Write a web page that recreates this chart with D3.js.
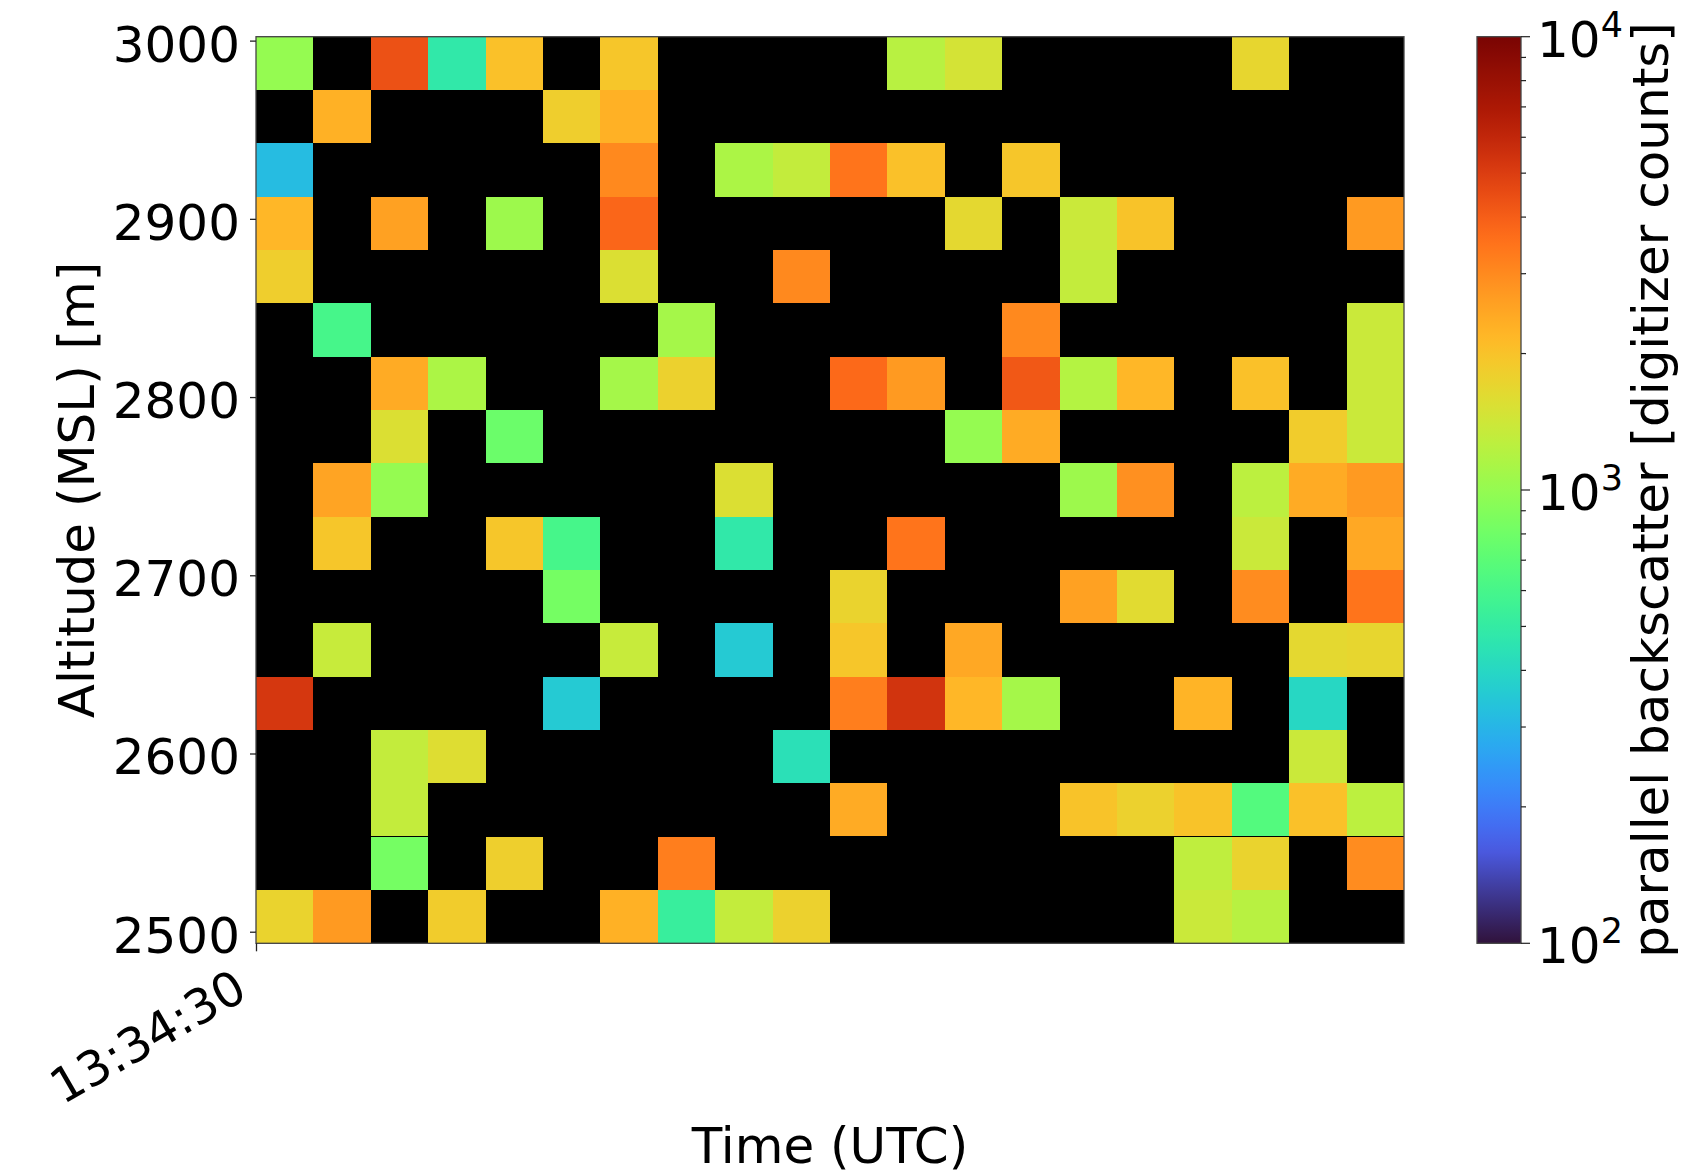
<!DOCTYPE html>
<html>
<head>
<meta charset="utf-8">
<script src="https://cdn.jsdelivr.net/npm/d3@7"></script>
<style>
  html, body { margin: 0; padding: 0; background: #fff; }
  svg { display: block; font-family: 'DejaVu Sans', sans-serif; }
</style>
</head>
<body>
<svg id="chart" width="1695" height="1174"></svg>
<script>
// time bins (UTC), one per column, and end of last bin
const times = ['13:34:30', '13:34:31', '13:34:32', '13:34:33', '13:34:34', '13:34:35', '13:34:36', '13:34:37', '13:34:38', '13:34:39',
  '13:34:40', '13:34:41', '13:34:42', '13:34:43', '13:34:44', '13:34:45', '13:34:46', '13:34:47', '13:34:48', '13:34:49'];
const timeEnd = '13:34:50';

// altitude bin centres (m MSL), top row first
const altitudes = [2987.2, 2957.3, 2927.4, 2897.5, 2867.6, 2837.6, 2807.7, 2777.8, 2747.9, 2718.0,
  2688.0, 2658.1, 2628.2, 2598.3, 2568.4, 2538.4, 2508.5];
const altStep = 29.92;

// parallel backscatter (digitizer counts), rows match altitudes, null = no data
const counts = [
  [1000, null, 4370, 480, 2040, null, 1950, null, null, null, null, 1230, 1480, null, null, null, null, 1700, null, null],
  [null, 2290, null, null, null, 1820, 2290, null, null, null, null, null, null, null, null, null, null, null, null, null],
  [316, null, null, null, null, null, 3020, null, 1150, 1320, 3470, 2040, null, 1950, null, null, null, null, null, null],
  [2190, null, 2570, null, 1050, null, 3800, null, null, null, null, null, 1660, null, 1380, 2000, null, null, null, 2690],
  [1820, null, null, null, null, null, 1550, null, null, 3020, null, null, null, null, 1320, null, null, null, null, null],
  [null, 600, null, null, null, null, null, 1100, null, null, null, null, null, 3020, null, null, null, null, null, 1380],
  [null, null, 2400, 1150, null, null, 1100, 1780, null, null, 3720, 2690, null, 4170, 1200, 2190, null, 2040, null, 1380],
  [null, null, 1550, null, 780, null, null, null, null, null, null, null, 1000, 2400, null, null, null, null, 1860, 1380],
  [null, 2510, 1000, null, null, null, null, null, 1550, null, null, null, null, null, 1050, 2880, null, 1260, 2400, 2690],
  [null, 1950, null, null, 1950, 600, null, null, 480, null, null, 3470, null, null, null, null, null, 1380, null, 2450],
  [null, null, null, null, null, 830, null, null, null, null, 1740, null, null, null, 2570, 1620, null, 2970, null, 3470],
  [null, 1350, null, null, null, null, 1350, null, 355, null, 1950, null, 2450, null, null, null, null, null, 1660, 1700],
  [5250, null, null, null, null, 355, null, null, null, null, 3240, 5370, 2190, 1100, null, null, 2240, null, 400, null],
  [null, null, 1320, 1585, null, null, null, null, null, 437, null, null, null, null, null, null, null, null, 1380, null],
  [null, null, 1320, null, null, null, null, null, null, null, 2400, null, null, null, 2000, 1780, 2000, 660, 2040, 1260],
  [null, null, 830, null, 1800, null, null, 3240, null, null, null, null, null, null, null, null, 1290, 1740, null, 2970],
  [1740, 2690, null, 1860, null, null, 2290, 525, 1320, 1780, null, null, null, null, null, null, 1380, 1230, null, null]
];

const xTicks = ['13:34:30'];
const yTicks = [2500, 2600, 2700, 2800, 2900, 3000];
const cbMajor = [100, 1000, 10000];
const altRange = [2493.5, 3002.2];
const cRange = [100, 10000];

const svg = d3.select('#chart');
const margin = { top: 36.7, left: 256, right: 1404, bottom: 943.3 };
const fontSize = 50;
const parseT = d3.utcParse('%H:%M:%S');

const x = d3.scaleUtc()
  .domain([parseT(times[0]), parseT(timeEnd)])
  .range([margin.left, margin.right]);

const y = d3.scaleLinear()
  .domain(altRange)
  .range([margin.bottom, margin.top]);

const cnorm = d3.scaleLog().domain(cRange).range([0, 1]).clamp(true);

// matplotlib-like turbo: d3 turbo in the middle, mpl end colours
function turbo(t) {
  if (t < 0.1) return d3.interpolateRgb('#30123b', d3.interpolateTurbo(0.1))(t / 0.1);
  if (t > 0.92) return d3.interpolateRgb(d3.interpolateTurbo(0.92), '#7a0403')((t - 0.92) / 0.08);
  return d3.interpolateTurbo(t);
}
const color = v => turbo(cnorm(v));

// ===== plot background (no-data = black) =====
svg.append('rect')
  .attr('x', margin.left).attr('y', margin.top)
  .attr('width', margin.right - margin.left)
  .attr('height', margin.bottom - margin.top)
  .attr('fill', '#000');

// ===== cells =====
const cells = [];
counts.forEach((row, i) => {
  row.forEach((v, j) => {
    if (v == null) return;
    cells.push({ alt: altitudes[i], t0: times[j], t1: times[j + 1] || timeEnd, v });
  });
});

svg.append('g')
  .selectAll('rect')
  .data(cells)
  .join('rect')
  .attr('x', d => x(parseT(d.t0)))
  .attr('width', d => x(parseT(d.t1)) - x(parseT(d.t0)))
  .attr('y', d => y(d.alt + altStep / 2))
  .attr('height', d => y(d.alt - altStep / 2) - y(d.alt + altStep / 2))
  .attr('fill', d => color(d.v))
  .attr('shape-rendering', 'crispEdges');

// frame
svg.append('rect')
  .attr('x', margin.left).attr('y', margin.top)
  .attr('width', margin.right - margin.left)
  .attr('height', margin.bottom - margin.top)
  .attr('fill', 'none')
  .attr('stroke', '#444')
  .attr('stroke-width', 1.3);

// ===== axes =====
const yAxis = svg.append('g')
  .attr('transform', `translate(${margin.left},0)`)
  .call(d3.axisLeft(y).tickValues(yTicks).tickSize(6).tickPadding(10).tickFormat(d3.format('d')));
yAxis.select('.domain').remove();
yAxis.selectAll('line').attr('stroke', '#222').attr('stroke-width', 1.3);
yAxis.selectAll('text')
  .attr('font-size', fontSize)
  .attr('font-family', 'DejaVu Sans')
  .attr('fill', '#000')
  .attr('dy', '0.41em');

const xAxis = svg.append('g')
  .attr('transform', `translate(0,${margin.bottom})`)
  .call(d3.axisBottom(x).tickValues(xTicks.map(parseT)).tickSize(8).tickFormat(d3.utcFormat('%H:%M:%S')));
xAxis.select('.domain').remove();
xAxis.selectAll('line').attr('stroke', '#222').attr('stroke-width', 1.3);
xAxis.selectAll('text')
  .attr('font-size', 48)
  .attr('font-family', 'DejaVu Sans')
  .attr('fill', '#000')
  .attr('text-anchor', 'end')
  .attr('x', -7)
  .attr('y', 54)
  .attr('dy', 0)
  .attr('transform', 'rotate(-30,-7,54)');

// axis titles
svg.append('text')
  .attr('x', (margin.left + margin.right) / 2)
  .attr('y', 1163)
  .attr('text-anchor', 'middle')
  .attr('font-size', fontSize)
  .text('Time (UTC)');

svg.append('text')
  .attr('transform', `translate(94,${(margin.top + margin.bottom) / 2}) rotate(-90)`)
  .attr('text-anchor', 'middle')
  .attr('font-size', fontSize)
  .text('Altitude (MSL) [m]');

// ===== colorbar =====
const cb = { x0: 1477, x1: 1521 };
const cbScale = d3.scaleLog().domain(cRange).range([margin.bottom, margin.top]);

const grad = svg.append('defs').append('linearGradient')
  .attr('id', 'cbgrad')
  .attr('x1', 0).attr('y1', 1).attr('x2', 0).attr('y2', 0);
d3.range(0, 1.0001, 0.01).forEach(t => {
  grad.append('stop').attr('offset', t).attr('stop-color', turbo(t));
});

svg.append('rect')
  .attr('x', cb.x0).attr('y', margin.top)
  .attr('width', cb.x1 - cb.x0)
  .attr('height', margin.bottom - margin.top)
  .attr('fill', 'url(#cbgrad)')
  .attr('stroke', '#444')
  .attr('stroke-width', 1.3);

const cbTicks = svg.append('g');
cbTicks.selectAll('line')
  .data(cbScale.ticks())
  .join('line')
  .attr('x1', cb.x1)
  .attr('x2', d => cb.x1 + (cbMajor.includes(d) ? 9 : 5))
  .attr('y1', d => cbScale(d))
  .attr('y2', d => cbScale(d))
  .attr('stroke', '#222')
  .attr('stroke-width', 1.2);

const cbLabels = cbTicks.selectAll('text')
  .data(cbMajor)
  .join('text')
  .attr('x', cb.x1 + 16)
  .attr('y', d => cbScale(d) + 20)
  .attr('font-size', fontSize);
cbLabels.append('tspan').text('10');
cbLabels.append('tspan')
  .attr('font-size', 35)
  .attr('dy', -20)
  .text(d => Math.round(Math.log10(d)));

svg.append('text')
  .attr('transform', `translate(1668,${(margin.top + margin.bottom) / 2}) rotate(-90)`)
  .attr('text-anchor', 'middle')
  .attr('font-size', fontSize)
  .text('parallel backscatter [digitizer counts]');
</script>
</body>
</html>
